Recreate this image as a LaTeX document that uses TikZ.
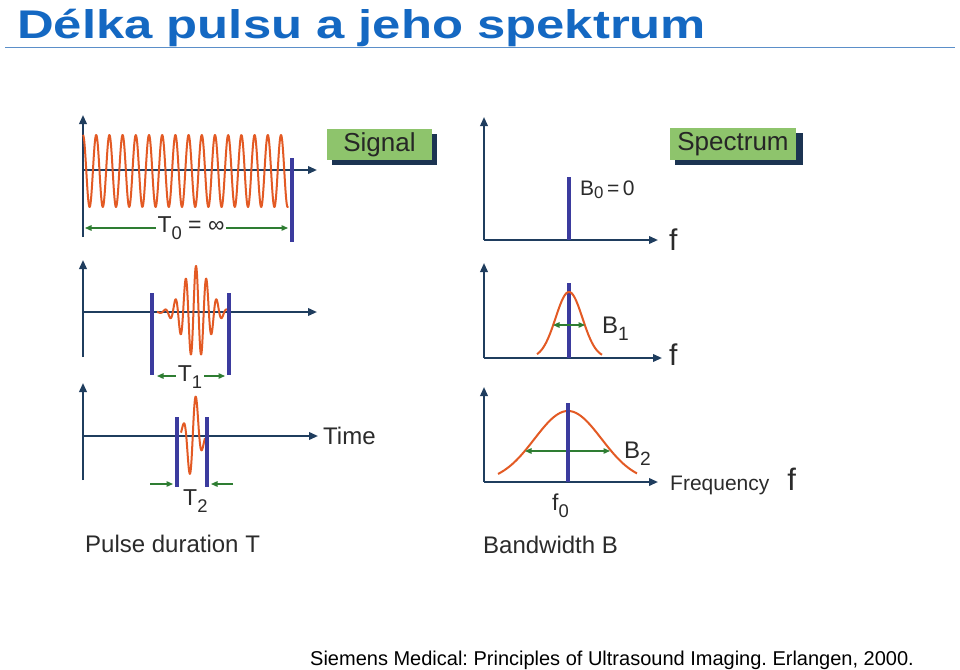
\documentclass[tikz,border=0pt]{standalone}
\usepackage{fontspec}
\setmainfont{Liberation Sans}
\usepackage{graphicx}
\usetikzlibrary{arrows.meta}
\definecolor{navy}{HTML}{1F3D5E}
\definecolor{barblue}{HTML}{3B3B9E}
\definecolor{wavec}{HTML}{E35A24}
\definecolor{grn}{HTML}{2E7D32}
\definecolor{boxgreen}{HTML}{8EC46C}
\definecolor{shadowc}{HTML}{1C3452}
\definecolor{titleblue}{HTML}{1468C2}
\definecolor{rulec}{HTML}{5B8FC9}
\definecolor{lbl}{HTML}{2B2B2B}
\newcommand\fs[1]{\fontsize{#1}{#1}\selectfont}
\newcommand\lowsub[1]{\raisebox{-0.32em}{\scalebox{0.8}{#1}}}
\frenchspacing
\begin{document}
\begin{tikzpicture}[x=1pt,y=-1pt,
  axisline/.style={navy, line width=2pt, -{Triangle[length=9pt,width=7.5pt]}},
  barline/.style={barblue, line width=3.5pt},
  wavepath/.style={wavec, line width=2pt, line join=round},
  dimarrow/.style={grn, line width=1.3pt, {Triangle[length=6.5pt,width=5.5pt]}-{Triangle[length=6.5pt,width=5.5pt]}},
  onearrow/.style={grn, line width=1.3pt, -{Triangle[length=6.5pt,width=5.5pt]}},
  lab/.style={text=lbl, inner sep=0pt, anchor=base west},
  dimlab/.style={text=lbl, fill=white, inner sep=2pt},
  tagbox/.style={draw=none, fill=boxgreen, text=black!85, inner sep=0pt}
]
\useasboundingbox[fill=white] (0,0) rectangle (960,669);

% title
\node[anchor=base west, inner sep=0pt, text=titleblue] (title) at (17,38)
  {\scalebox{1.27}[1]{\fs{40}\bfseries Délka pulsu a jeho spektrum}};
\coordinate (ruleL) at (5,47.5);
\coordinate (ruleR) at (955,47.5);
\draw[rulec, line width=1.2pt] (ruleL) -- (ruleR);

% ---------- time domain, row 1 ----------
\coordinate (a1b) at (83,237); \coordinate (a1t) at (83,115);
\coordinate (a1o) at (83,170); \coordinate (a1r) at (317,170);
\draw[axisline] (a1b) -- (a1t);
\draw[axisline] (a1o) -- (a1r);
\draw[wavepath] plot[domain=83:288, samples=500] (\x, {171 - 36*cos((\x-83)*27.2727)});
\coordinate (bar1t) at (292,158); \coordinate (bar1b) at (292,242);
\draw[barline] (bar1t) -- (bar1b);
\coordinate (d0l) at (85,228); \coordinate (d0r) at (288,228);
\draw[dimarrow] (d0l) -- (d0r);
\node[dimlab] (T0) at (191,228) {\fs{23}T\lowsub{0} = ∞};

% signal tag
\fill[shadowc] (332,134) rectangle (437,165);
\node[tagbox, minimum width=105pt, minimum height=31pt] (signal) at (379.5,144.5) {\fs{26}Signal};

% ---------- time domain, row 2 ----------
\coordinate (a2b) at (83,357); \coordinate (a2t) at (83,260);
\coordinate (a2o) at (83,312); \coordinate (a2r) at (317,312);
\draw[axisline] (a2b) -- (a2t);
\draw[axisline] (a2o) -- (a2r);
\draw[wavepath] plot[domain=157:227, samples=300] (\x, {312 - 46*exp(-(\x-196)*(\x-196)/324)*cos((\x-196)*34.9515)});
\coordinate (b2lt) at (152,293); \coordinate (b2lb) at (152,375);
\coordinate (b2rt) at (229,293); \coordinate (b2rb) at (229,375);
\draw[barline] (b2lt) -- (b2lb);
\draw[barline] (b2rt) -- (b2rb);
\coordinate (d1l) at (157,376); \coordinate (d1r) at (225,376);
\draw[dimarrow] (d1l) -- (d1r);
\node[dimlab] (T1) at (190,377) {\fs{23}T\lowsub{1}};

% ---------- time domain, row 3 ----------
\coordinate (a3b) at (83,480); \coordinate (a3t) at (83,383);
\coordinate (a3o) at (83,436); \coordinate (a3r) at (318,436);
\draw[axisline] (a3b) -- (a3t);
\draw[axisline] (a3o) -- (a3r);
\draw[wavepath] plot[domain=181:205, samples=200] (\x, {436 - 44*exp(-(\x-193)*(\x-193)/72)*cos((\x-196)*27.6923)});
\coordinate (b3lt) at (177,417); \coordinate (b3lb) at (177,487);
\coordinate (b3rt) at (207,417); \coordinate (b3rb) at (207,487);
\draw[barline] (b3lt) -- (b3lb);
\draw[barline] (b3rt) -- (b3rb);
\coordinate (d2a) at (150,484); \coordinate (d2b) at (173,484);
\coordinate (d2c) at (233,484); \coordinate (d2d) at (211,484);
\draw[onearrow] (d2a) -- (d2b);
\draw[onearrow] (d2c) -- (d2d);
\node[lab] (T2) at (183,505) {\fs{23}T\lowsub{2}};
\node[lab] (time) at (323,444) {\fs{24}Time};
\node[lab] (pulse) at (85,552) {\fs{24}Pulse duration T};

% ---------- spectrum, row 1 ----------
\coordinate (s1o) at (484,240); \coordinate (s1t) at (484,117); \coordinate (s1r) at (658,240);
\draw[axisline] (s1o) -- (s1t);
\draw[axisline] (s1o) -- (s1r);
\coordinate (l1t) at (569,177); \coordinate (l1b) at (569,240);
\draw[barline] (l1t) -- (l1b);
\node[lab] (B0) at (580,195) {\fs{21}B\raisebox{-0.15em}{\scalebox{0.8}{0}}\,=\,0};
\node[lab] (f1) at (669,250) {\fs{30}f};

% spectrum tag
\fill[shadowc] (675,133) rectangle (803,165);
\node[tagbox, minimum width=126pt, minimum height=32pt] (spectrum) at (733,144) {\fs{26}Spectrum};

% ---------- spectrum, row 2 ----------
\coordinate (s2o) at (484,358); \coordinate (s2t) at (484,263); \coordinate (s2r) at (662,358);
\draw[axisline] (s2o) -- (s2t);
\draw[axisline] (s2o) -- (s2r);
\coordinate (l2t) at (569,283); \coordinate (l2b) at (569,358);
\draw[barline] (l2t) -- (l2b);
\draw[wavepath] plot[domain=537:602, samples=150] (\x, {358 - 66*exp(-(\x-569)*(\x-569)/361)});
\coordinate (e1l) at (553,325); \coordinate (e1r) at (585,325);
\draw[dimarrow] (e1l) -- (e1r);
\node[lab] (B1) at (602,333) {\fs{24}B\lowsub{1}};
\node[lab] (f2) at (669,365) {\fs{30}f};

% ---------- spectrum, row 3 ----------
\coordinate (s3o) at (484,482); \coordinate (s3t) at (484,387); \coordinate (s3r) at (658,482);
\draw[axisline] (s3o) -- (s3t);
\draw[axisline] (s3o) -- (s3r);
\draw[wavepath] plot[domain=498:637, samples=200] (\x, {482 - 71*exp(-(\x-568)*(\x-568)/2256)});
\coordinate (e2l) at (525,451); \coordinate (e2r) at (610,451);
\draw[dimarrow] (e2l) -- (e2r);
\coordinate (l3t) at (568,403); \coordinate (l3b) at (568,482);
\draw[barline] (l3t) -- (l3b);
\node[lab] (B2) at (624,458) {\fs{24}B\lowsub{2}};
\node[lab] (freq) at (670,490) {{\fs{21}Frequency}\hspace{18pt}{\fs{31}f}};
\node[lab] (f0) at (552,510) {\fs{23}f\lowsub{0}};
\node[lab] (bw) at (483,553) {\fs{24}Bandwidth B};

% citation
\node[anchor=base west, inner sep=0pt, text=black] (cite) at (310,665)
  {\fs{20}Siemens Medical: Principles of Ultrasound Imaging. Erlangen, 2000.};
\end{tikzpicture}
\end{document}
